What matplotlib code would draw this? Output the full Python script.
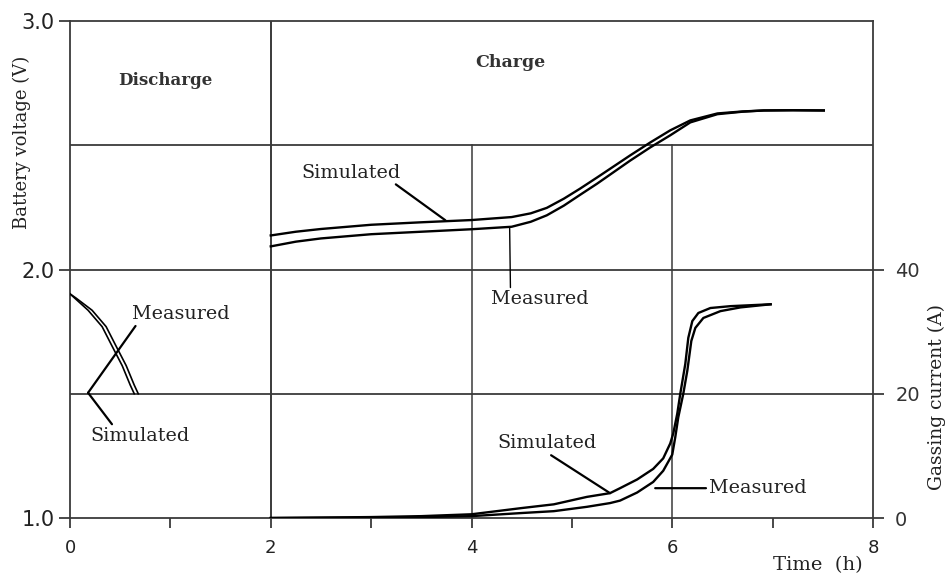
import matplotlib
matplotlib.use('Agg')
import matplotlib.pyplot as plt
from matplotlib.ticker import FixedLocator

# ---------------- data ----------------
# Discharge (battery voltage, V)
t_dis_sim = [0.0, 0.18, 0.32, 0.42, 0.52, 0.60, 0.64]
v_dis_sim = [1.902, 1.836, 1.770, 1.691, 1.613, 1.535, 1.500]
t_dis_meas = [0.0, 0.06, 0.22, 0.36, 0.46, 0.56, 0.64, 0.68]
v_dis_meas = [1.902, 1.885, 1.836, 1.770, 1.691, 1.613, 1.535, 1.500]

# Charge (battery voltage, V)
t_chg = [2.0, 2.25, 2.5, 3.0, 3.5, 4.0, 4.4, 4.59, 4.75, 4.92, 5.08, 5.25, 5.58, 5.78,
         5.98, 6.18, 6.45, 6.7, 6.91, 7.2, 7.51]
v_chg_sim = [2.137, 2.152, 2.163, 2.180, 2.190, 2.199, 2.211, 2.226, 2.248, 2.285, 2.325,
             2.370, 2.459, 2.511, 2.560, 2.600, 2.628, 2.636, 2.640, 2.641, 2.640]
v_chg_meas = [2.093, 2.112, 2.125, 2.142, 2.152, 2.162, 2.172, 2.192, 2.218, 2.257, 2.300,
              2.345, 2.438, 2.491, 2.540, 2.592, 2.625, 2.635, 2.640, 2.641, 2.640]

# Gassing current (A)
t_gas_sim = [2.0, 3.0, 3.5, 4.0, 4.5, 4.82, 5.15, 5.38, 5.48, 5.65, 5.81, 5.91, 5.98, 6.01,
             6.05, 6.08, 6.13, 6.16, 6.20, 6.26, 6.38, 6.58, 6.98]
i_gas_sim = [0.0, 0.15, 0.3, 0.6, 1.6, 2.2, 3.4, 4.0, 4.8, 6.2, 7.9, 9.6, 12.0, 13.6,
             16.8, 20.0, 24.8, 29.0, 31.7, 33.0, 33.8, 34.1, 34.4]
t_gas_meas = [2.0, 3.0, 3.5, 4.0, 4.5, 4.82, 5.15, 5.38, 5.48, 5.65, 5.81, 5.91, 6.0, 6.03,
              6.06, 6.11, 6.15, 6.19, 6.23, 6.31, 6.48, 6.68, 6.98]
i_gas_meas = [0.0, 0.05, 0.15, 0.3, 0.8, 1.1, 1.8, 2.4, 2.8, 4.1, 5.8, 7.6, 10.2, 13.0,
              16.2, 20.0, 23.7, 28.5, 30.6, 32.2, 33.3, 33.9, 34.4]

x_ticks = [0, 2, 4, 6, 8]
x_minor = [1, 3, 5, 7]
v_ticks = [1.0, 2.0, 3.0]
v_tick_labels = ['1.0', '2.0', '3.0']
i_ticks = [0, 20, 40]

# ---------------- figure ----------------
fig = plt.figure(figsize=(9.51, 5.76), dpi=100)
ax = fig.add_axes([70/951, 1-518/576, (873-70)/951, (518-21)/576])
ax.set_xlim(0, 8)
ax.set_ylim(1.0, 3.0)
ax2 = ax.twinx()
ax2.set_ylim(0, 80)

grid_c = '#3a3a3a'
for sp in ax.spines.values():
    sp.set_color(grid_c)
    sp.set_linewidth(1.3)
for sp in ax2.spines.values():
    sp.set_visible(False)

# grid
for y in [1.5, 2.0, 2.5]:
    ax.axhline(y, color=grid_c, lw=1.3, zorder=1)
ax.axvline(2, color=grid_c, lw=1.4, zorder=1)
for x in [4, 6]:
    ax.plot([x, x], [1.0, 2.5], color=grid_c, lw=1.1, zorder=1)

lw = 1.7
ax.plot(t_dis_sim, v_dis_sim, color='black', lw=1.2, zorder=3)
ax.plot(t_dis_meas, v_dis_meas, color='black', lw=1.2, zorder=3)
ax.plot(t_chg, v_chg_sim, color='black', lw=lw, zorder=3)
ax.plot(t_chg, v_chg_meas, color='black', lw=lw, zorder=3)
ax2.plot(t_gas_sim, i_gas_sim, color='black', lw=lw, zorder=3)
ax2.plot(t_gas_meas, i_gas_meas, color='black', lw=lw, zorder=3)

# ticks
ax.set_xticks(x_ticks)
ax.set_xticklabels([str(v) for v in x_ticks], family='DejaVu Sans', size=13, color='#222222')
ax.xaxis.set_minor_locator(FixedLocator(x_minor))
ax.tick_params(axis='x', which='both', direction='out', length=7, width=1.3, color=grid_c, pad=8)
ax.set_yticks(v_ticks)
ax.set_yticklabels(v_tick_labels, family='DejaVu Sans', size=15, color='#222222')
ax.tick_params(axis='y', direction='out', length=8, width=1.3, color=grid_c, pad=3)
ax2.set_yticks(i_ticks)
ax2.set_yticklabels([str(v) for v in i_ticks], family='DejaVu Sans', size=14, color='#333333')
ax2.tick_params(axis='y', direction='out', length=8, width=1.3, color=grid_c, pad=8)

serif = 'DejaVu Serif'
fig.text(818/951, 1-565/576, 'Time  (h)', fontsize=14, family=serif, ha='center', va='center', color='#222222')
fig.text(22/951, 1-142/576, 'Battery voltage (V)', fontsize=13, family=serif, rotation=90,
         ha='center', va='center', color='#222222')
fig.text(937/951, 1-397/576, 'Gassing current (A)', fontsize=13.5, family=serif, rotation=90,
         ha='center', va='center', color='#222222')

ax.text(0.95, 2.76, 'Discharge', fontsize=12, family=serif, weight='bold', ha='center', va='center', color='#333333')
ax.text(4.39, 2.835, 'Charge', fontsize=12.5, family=serif, weight='bold', ha='center', va='center', color='#333333')

ann = dict(fontsize=13.8, family=serif, color='#222222')
lp = dict(arrowstyle='-', color='black', lw=1.6, shrinkA=0, shrinkB=0)
# discharge labels
ax.annotate('Measured', xy=(0.18, 1.504), xytext=(1.1, 1.82), ha='center', va='center',
            arrowprops=dict(lp, relpos=(0.08, 0.15)), **ann)
ax.annotate('Simulated', xy=(0.18, 1.504), xytext=(0.7, 1.33), ha='center', va='center',
            arrowprops=dict(lp, relpos=(0.25, 0.9)), **ann)
# charge voltage labels
ax.annotate('Simulated', xy=(3.74, 2.198), xytext=(2.8, 2.39), ha='center', va='center',
            arrowprops=dict(lp, relpos=(0.9, 0.05)), **ann)
ax.annotate('Measured', xy=(4.38, 2.170), xytext=(4.68, 1.88), ha='center', va='center',
            arrowprops=dict(lp, relpos=(0.2, 1.0), lw=1.0), **ann)
# gassing current labels
ax.annotate('Simulated', xy=(5.38, 1.10), xytext=(4.75, 1.30), ha='center', va='center',
            arrowprops=dict(lp, relpos=(0.5, 0.0)), **ann)
ax.annotate('Measured', xy=(5.83, 1.12), xytext=(6.85, 1.12), ha='center', va='center',
            arrowprops=dict(lp, relpos=(0.0, 0.5)), **ann)

fig.savefig('out.png', dpi=100)
